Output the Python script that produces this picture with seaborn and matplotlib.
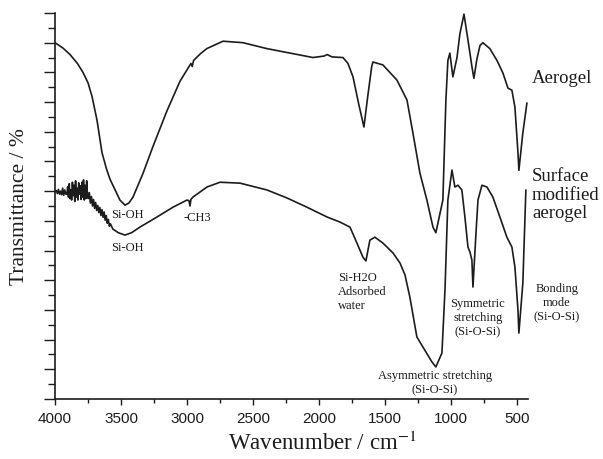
import numpy as np
import pandas as pd
import seaborn as sns
import matplotlib.pyplot as plt
from matplotlib.ticker import MultipleLocator

# FTIR spectra (wavenumber in cm-1, transmittance in arbitrary offset units)
aerogel_wn = [4000, 3940, 3886, 3830, 3788, 3750, 3720, 3682, 3644, 3610, 3583, 3540, 3508,
              3470, 3440, 3409, 3333, 3258, 3152, 3053, 2970, 2960, 2950, 2900, 2850,
              2727, 2576, 2394, 2220, 2045, 1960, 1939, 1900, 1818, 1780, 1742, 1697,
              1659, 1630, 1600, 1591, 1515, 1409, 1333, 1288, 1235, 1182, 1136, 1114,
              1061, 1038, 1023, 1008, 985, 954, 932, 901, 871, 841, 826, 803, 780,
              758, 705, 651, 606, 568, 538, 515, 492, 485, 455, 424]
aerogel_t = [12.0, 11.82, 11.6, 11.3, 11.0, 10.65, 10.2, 9.4, 8.3, 7.75, 7.4, 7.0, 6.7,
             6.53, 6.6, 6.8, 7.6, 8.5, 9.7, 10.7, 11.3, 11.2, 11.4, 11.62, 11.8,
             12.05, 12.0, 11.8, 11.65, 11.5, 11.55, 11.6, 11.52, 11.5, 11.3, 10.85, 9.9,
             9.16, 10.2, 11.2, 11.35, 11.25, 10.74, 10.07, 8.96, 7.61, 6.7, 5.79, 5.6,
             6.7, 10.07, 11.4, 11.65, 10.85, 11.5, 12.3, 12.96, 12.1, 11.2, 10.8, 11.45,
             11.9, 12.0, 11.8, 11.4, 10.98, 10.47, 10.4, 9.83, 8.3, 7.7, 8.96, 9.97]

modified_wn = [4000, 3990, 3982, 3974, 3966, 3958, 3950, 3942, 3934, 3926, 3918,
               3910, 3904, 3898, 3892, 3886, 3880, 3874, 3868, 3862, 3856, 3850, 3844,
               3838, 3832, 3826, 3820, 3814, 3808, 3802, 3796, 3790, 3784, 3778, 3772,
               3766, 3760, 3754, 3748, 3740, 3732, 3724, 3716, 3708, 3700, 3692, 3684,
               3676, 3668, 3660, 3652, 3644, 3636, 3628, 3620, 3612, 3604, 3596, 3588,
               3580, 3561, 3520, 3470, 3420, 3356, 3227, 3106, 3000, 2985, 2977, 2970,
               2955, 2848, 2750, 2598, 2394, 2242, 2091, 1939, 1841, 1765, 1712, 1667,
               1644, 1614, 1576, 1515, 1439, 1386, 1348, 1311, 1258, 1212, 1144, 1114,
               1068, 1045, 1023, 992, 970, 947, 917, 894, 871, 856, 841, 833, 810, 795,
               765, 727, 682, 629, 576, 538, 515, 492, 485, 455, 432]
modified_t = [6.97, 7.02, 6.92, 7.06, 6.9, 7.0, 6.88, 7.1, 6.86, 7.04, 6.9,
              6.9, 7.15, 6.8, 7.25, 6.75, 7.05, 6.7, 7.3, 6.85, 7.2, 6.65, 7.35,
              6.8, 7.1, 6.7, 7.28, 6.9, 7.18, 6.72, 7.3, 6.8, 7.38, 6.7, 7.2,
              6.75, 7.35, 6.85, 6.75, 6.95, 6.6, 6.82, 6.5, 6.72, 6.42, 6.62, 6.35,
              6.52, 6.28, 6.45, 6.18, 6.38, 6.12, 6.3, 6.02, 6.18, 5.92, 6.05, 5.82,
              5.9, 5.72, 5.6, 5.52, 5.6, 5.79, 6.13, 6.46, 6.7, 6.68, 6.5, 6.72,
              6.8, 7.14, 7.3, 7.27, 7.04, 6.77, 6.46, 6.13, 5.96, 5.79, 5.25, 4.78,
              4.65, 5.35, 5.45, 5.25, 4.92, 4.58, 4.18, 3.43, 2.09, 1.75, 1.25, 1.08,
              1.55, 3.67, 6.7, 7.71, 7.14, 7.2, 7.04, 6.13, 5.12, 4.95, 4.68, 3.77, 5.59, 6.7,
              7.2, 7.14, 6.8, 6.13, 5.45, 5.12, 4.44, 3.0, 2.22, 3.9, 7.04]

spectra = pd.concat([
    pd.DataFrame({"wavenumber": aerogel_wn, "T": aerogel_t, "sample": "Aerogel"}),
    pd.DataFrame({"wavenumber": modified_wn, "T": modified_t, "sample": "Modified"}),
])

sns.set_style("ticks")
plt.rcParams["font.family"] = ["Liberation Serif", "DejaVu Serif"]

fig = plt.figure(figsize=(6.03, 4.59), dpi=100)
ax = fig.add_axes([0.0912, 0.1307, 0.7844, 0.841])

ink = "#1c1c1c"
sns.lineplot(data=spectra, x="wavenumber", y="T", hue="sample", units="sample",
             estimator=None, sort=False, palette=[ink, ink], linewidth=1.2,
             legend=False, ax=ax)

ax.set_xlim(4000, 416)
ax.set_ylim(0, 13)
ax.xaxis.set_major_locator(MultipleLocator(500))
ax.xaxis.set_minor_locator(MultipleLocator(250))
ax.yaxis.set_major_locator(MultipleLocator(1))
ax.yaxis.set_minor_locator(MultipleLocator(0.5))
ax.set_yticklabels([])
ax.tick_params(axis="x", which="major", length=4, width=1, color=ink, pad=5,
               labelsize=11, labelcolor=ink)
ax.tick_params(axis="x", which="minor", length=3, width=1, color=ink)
ax.tick_params(axis="y", which="major", length=8, width=1, color=ink)
ax.tick_params(axis="y", which="minor", length=5, width=1, color=ink)
for lab in ax.get_xticklabels():
    lab.set_fontfamily("Liberation Sans")
for side in ["top", "right"]:
    ax.spines[side].set_visible(False)
for side in ["left", "bottom"]:
    ax.spines[side].set_color(ink)
    ax.spines[side].set_linewidth(1.2)
ax.set_xlabel("")
ax.set_ylabel("")

fig.text(0.535, 0.035, "Wavenumber / cm$^{-1}$", ha="center", va="center",
         fontsize=16.5, color=ink, math_fontfamily="stix")
fig.text(0.033, 0.549, "Transmittance / %", ha="center", va="center",
         rotation=90, fontsize=15.5, color=ink)

big = dict(fontsize=13.5, color=ink, ha="left", va="center", clip_on=False)
ax.text(386, 10.81, "Aerogel", **big)
ax.text(386, 6.87, "Surface\nmodified\naerogel", linespacing=1.15, **big)

small = dict(fontsize=9, color=ink, clip_on=False, linespacing=1.25)
ax.text(3455, 6.2, "Si-OH", ha="center", va="center", **small)
ax.text(3455, 5.08, "Si-OH", ha="center", va="center", **small)
ax.text(2924, 6.09, "-CH3", ha="center", va="center", **small)
ax.text(1856, 3.6, "Si-H2O\nAdsorbed\nwater", ha="left", va="center", **small)
ax.text(795, 2.73, "Symmetric\nstretching\n(Si-O-Si)", ha="center", va="center",
        multialignment="center", **small)
ax.text(197, 3.23, "Bonding\nmode\n(Si-O-Si)", ha="center", va="center",
        multialignment="center", **small)
ax.text(1121, 0.52, "Asymmetric stretching\n(Si-O-Si)", ha="center", va="center",
        multialignment="center", **small)

fig.savefig("out.png", dpi=100, facecolor="white")
